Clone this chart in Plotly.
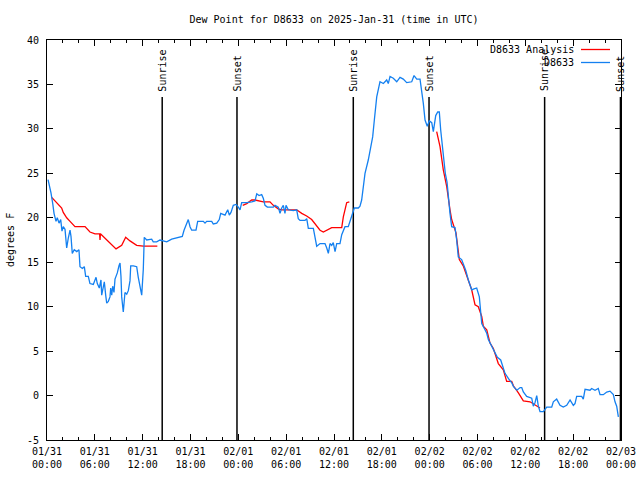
import pandas as pd
import plotly.graph_objects as go

START = pd.Timestamp("2025-01-31 00:00")

# Observed dew point (D8633): hours since 01/31 00:00 UTC, degrees F
obs_hours = [0.13, 0.29, 0.50, 0.72, 0.88, 1.13, 1.29, 1.51, 1.72, 1.88, 2.04, 2.26, 2.47, 2.67, 2.89, 3.01,
             3.17, 3.42, 3.73, 4.01, 4.14, 4.43, 4.68, 4.85, 5.18, 5.39, 5.81, 6.15, 6.31, 6.56, 6.77, 6.86,
             7.06, 7.19, 7.36, 7.49, 7.69, 7.90, 7.99, 8.12, 8.24, 8.40, 8.53, 8.82, 9.03, 9.16, 9.28, 9.37,
             9.57, 9.78, 10.0, 10.2, 10.41, 10.50, 10.83, 11.25, 11.45, 11.67, 11.88, 12.08, 12.20, 12.51,
             13.13, 13.33, 13.76, 14.17, 14.59, 15.02, 15.64, 16.47, 16.97, 17.19, 17.52, 17.72, 17.94, 18.15,
             18.69, 18.90, 19.61, 19.82, 20.03, 20.66, 20.86, 21.29, 21.61, 21.79, 22.33, 22.67, 22.87, 23.08,
             23.37, 23.71, 24.0, 24.21, 24.42, 25.05, 25.68, 26.09, 26.31, 26.60, 26.93, 27.13, 27.35, 27.64,
             28.39, 28.60, 29.01, 29.23, 29.44, 29.64, 29.85, 29.98, 30.27, 30.90, 31.32, 31.52, 31.74, 32.36,
             32.58, 32.78, 33.41, 33.62, 33.83, 34.25, 34.87, 35.09, 35.29, 35.50, 35.71, 35.91, 36.13, 36.34,
             36.75, 36.97, 37.38, 37.79, 38.22, 38.55, 39.05, 39.26, 39.47, 39.76, 39.89, 40.30, 40.60, 40.85,
             41.06, 41.36, 41.65, 41.77, 42.19, 42.61, 42.81, 43.03, 43.44, 43.87, 44.28, 44.69, 45.12, 45.75,
             46.04, 46.38, 46.79, 47.00, 47.20, 47.42, 47.70, 47.95, 48.26, 48.46, 48.76, 49.01, 49.21, 49.38,
             49.71, 49.96, 50.18, 50.34, 50.55, 50.76, 51.18, 51.39, 51.59, 52.01, 52.21, 52.52, 52.85, 53.27,
             53.56, 53.90, 54.23, 54.53, 54.94, 55.16, 55.36, 55.78, 56.20, 56.49, 56.91, 57.16, 57.45, 57.89,
             58.32, 58.52, 58.73, 58.94, 59.35, 59.55, 59.75, 60.17, 60.80, 61.00, 61.21, 61.43, 61.63, 61.84,
             62.26, 62.68, 63.31, 63.51, 63.93, 64.14, 64.35, 64.76, 65.19, 65.61, 66.02, 66.23, 66.44, 67.07,
             67.27, 67.49, 68.11, 68.32, 68.74, 69.15, 69.37, 69.78, 70.21, 70.62, 71.04, 71.25, 71.46, 71.67]
obs_values = [24.3, 23.7, 22.8, 21.6, 20.5, 19.6, 20.0, 19.4, 19.8, 18.5, 19.0, 18.7, 16.6, 17.7, 18.6, 17.9,
              16.0, 16.4, 16.2, 16.4, 14.5, 14.3, 14.5, 13.4, 13.4, 12.6, 12.5, 13.3, 12.6, 12.1, 13.0, 11.3,
              12.3, 12.8, 11.3, 10.4, 10.6, 11.1, 12.1, 11.3, 12.3, 11.6, 13.1, 13.8, 14.6, 14.9, 13.4, 11.1,
              9.4, 11.6, 11.4, 11.8, 12.9, 14.6, 14.6, 14.5, 13.3, 12.4, 11.3, 14.2, 17.8, 17.5,
              17.6, 17.3, 17.3, 17.5, 17.4, 17.3, 17.6, 17.8, 17.9, 18.6, 19.4, 19.8, 19.0, 18.6,
              18.6, 19.6, 19.6, 19.4, 19.6, 19.6, 19.3, 19.4, 19.8, 20.5, 20.3, 20.9, 20.3, 20.6,
              21.4, 21.5, 21.2, 20.9, 21.7, 21.7, 21.8, 21.9, 22.7, 22.5, 22.6, 22.2, 21.4, 21.2,
              21.2, 21.4, 21.2, 20.5, 21.1, 21.4, 20.5, 21.4, 20.9, 20.8, 20.9, 19.9, 19.7, 19.7,
              19.9, 18.8, 18.8, 17.9, 16.8, 17.1, 17.1, 16.6, 16.0, 17.1, 16.9, 17.2, 16.2, 17.1,
              17.1, 18.1, 19.0, 19.0, 20.1, 21.1, 21.1, 21.3, 22.0, 23.7, 25.0, 26.5, 28.0, 29.1,
              31.0, 33.6, 34.8, 35.3, 35.1, 35.5, 35.1, 35.9, 35.7, 35.3, 35.8, 35.6, 35.2, 35.3,
              36.0, 35.6, 35.6, 34.4, 32.9, 31.0, 30.3, 30.9, 30.7, 29.7, 31.5, 31.9, 31.9, 29.9,
              26.9, 25.0, 24.0, 22.0, 20.5, 19.0, 18.9, 17.5, 15.6, 15.3, 14.9, 14.1, 13.0, 11.9,
              12.0, 12.1, 11.1, 8.1, 7.4, 7.0, 6.3, 5.6, 4.9, 4.3, 4.0, 3.3, 2.5, 1.9,
              1.4, 1.0, 0.8, 0.6, 0.9, 0.9, 0.4, -0.1, -0.3, -1.2, -0.8, 0.0, -1.2, -1.8,
              -1.8, -1.3, -1.3, -0.7, -0.4, -0.7, -1.1, -1.3, -1.1, -0.5, -1.1, -0.9, -0.1, -0.1,
              -0.4, 0.7, 0.6, 0.8, 0.6, 0.8, 0.1, 0.1, 0.4, 0.5, 0.1, -0.7, -1.2, -2.4]

# Analysis (D8633 Analysis): None breaks the line
ana_hours = [0.59, 1.0, 1.42, 1.84, 2.04, 2.47, 2.89, 3.51, 4.14, 4.77, 5.39, 6.02, 6.60, 6.65, 6.70, 7.28,
             7.90, 8.66, 9.37, 9.87, 10.41, 11.25, 12.08, 13.84,
             19.0,
             24.55, 25.05, 25.68, 26.09, 27.13, 27.97, 28.39, 29.01, 29.44, 31.32, 31.95, 32.57, 33.20, 33.83,
             34.25, 34.66, 35.29, 35.71, 36.97, 37.17, 37.59, 37.92,
             43.0,
             48.88, 49.30, 49.71, 50.14, 50.55, 50.76, 51.30, 51.72, 52.21, 52.65, 53.27, 53.69, 54.10, 54.53,
             54.73, 55.16, 55.57, 55.99, 56.61, 57.24, 57.66, 58.29, 58.50, 59.13, 59.55, 59.75, 60.59, 61.00,
             61.43, 61.84]
ana_values = [22.3, 21.9, 21.4, 21.1, 20.6, 20.0, 19.6, 19.0, 19.0, 19.0, 18.4, 18.2, 18.2, 17.5, 18.2, 17.7,
              17.1, 16.5, 16.9, 17.8, 17.4, 16.9, 16.8, 16.8,
              None,
              21.4, 21.6, 22.0, 22.0, 21.8, 21.8, 21.4, 21.0, 20.9, 20.9, 20.5, 20.2, 19.8, 19.0,
              18.6, 18.4, 18.7, 18.9, 18.9, 20.1, 21.7, 21.8,
              None,
              29.7, 28.0, 25.4, 23.5, 20.9, 19.8, 18.3, 15.3, 14.6, 13.4, 11.9, 10.2, 10.0, 8.9,
              7.8, 7.4, 5.9, 5.3, 3.6, 2.9, 1.6, 1.6, 1.1, 0.3, -0.4, -0.6, -0.7, -0.9,
              -1.2, -1.4]

# Sun events (hours since 01/31 00:00 UTC)
sun_labels = ["Sunrise", "Sunset", "Sunrise", "Sunset", "Sunrise", "Sunset"]
sun_hours = [14.45, 23.83, 38.42, 47.92, 62.42, 71.93]

tick_hours = list(range(0, 73, 6))
tick_labels = ["01/31<br>00:00", "01/31<br>06:00", "01/31<br>12:00", "01/31<br>18:00",
               "02/01<br>00:00", "02/01<br>06:00", "02/01<br>12:00", "02/01<br>18:00",
               "02/02<br>00:00", "02/02<br>06:00", "02/02<br>12:00", "02/02<br>18:00",
               "02/03<br>00:00"]
y_ticks = [-5, 0, 5, 10, 15, 20, 25, 30, 35, 40]


def to_time(hours):
    return [START + pd.Timedelta(hours=h) for h in hours]


FONT = "DejaVu Sans Mono"
RED = "#ff0000"
BLUE = "#1480f0"

fig = go.Figure()

# sun event vertical lines
for lab, h in zip(sun_labels, sun_hours):
    t = START + pd.Timedelta(hours=h)
    fig.add_trace(go.Scatter(x=[t, t], y=[-5, 33.6], mode="lines",
                             line=dict(color="black", width=1.5), showlegend=False, hoverinfo="skip"))
    fig.add_annotation(x=t, y=34.1, xref="x", yref="y", text=lab, textangle=-90,
                       showarrow=False, xanchor="center", yanchor="bottom",
                       font=dict(family=FONT, size=10, color="black"), borderpad=0)

fig.add_trace(go.Scatter(x=to_time(ana_hours), y=ana_values, mode="lines",
                         line=dict(color=RED, width=1.3), name="D8633 Analysis",
                         showlegend=False, connectgaps=False))
fig.add_trace(go.Scatter(x=to_time(obs_hours), y=obs_values, mode="lines",
                         line=dict(color=BLUE, width=1.3), name="D8633", showlegend=False))

# gnuplot-style legend (text then sample line)
W, H = 574.0, 400.0
def px_x(px):
    return (px - 47) / W
def px_y(py):
    return (440 - py) / H

for name, color, py in [("D8633 Analysis", RED, 49.5), ("D8633", BLUE, 62.5)]:
    fig.add_annotation(x=px_x(575), y=px_y(py), xref="paper", yref="paper", text=name,
                       showarrow=False, xanchor="right", yanchor="middle", borderpad=0,
                       font=dict(family=FONT, size=10, color="black"))
    fig.add_shape(type="line", xref="paper", yref="paper", x0=px_x(581), x1=px_x(610),
                  y0=px_y(py), y1=px_y(py), line=dict(color=color, width=1.3))

# y-axis title
fig.add_annotation(x=px_x(10), y=0.5, xref="paper", yref="paper", text="degrees F",
                   textangle=-90, showarrow=False, xanchor="center", yanchor="middle",
                   font=dict(family=FONT, size=10, color="black"))

fig.update_layout(
    width=640, height=480,
    margin=dict(l=47, r=19, t=40, b=40, pad=0, autoexpand=False),
    paper_bgcolor="white", plot_bgcolor="white",
    font=dict(family=FONT, size=10, color="black"),
    title=dict(text="Dew Point for D8633 on 2025-Jan-31 (time in UTC)", x=0.5, xref="paper",
               xanchor="center", y=1 - 19 / 480, yanchor="middle", yref="container",
               automargin=False, font=dict(family=FONT, size=10, color="black")),
    showlegend=False,
    hovermode=False,
)

fig.update_xaxes(
    type="date", automargin=False,
    range=[START, START + pd.Timedelta(hours=72)],
    tickmode="array", tickvals=to_time(tick_hours), ticktext=tick_labels,
    ticks="inside", ticklen=6, tickcolor="black", tickwidth=1,
    minor=dict(tickmode="linear", tick0=START, dtick=2 * 3600 * 1000, ticks="inside",
               ticklen=3, tickcolor="black", tickwidth=1, showgrid=False),
    showline=True, linecolor="black", linewidth=1, mirror="ticks",
    showgrid=False, zeroline=False, ticklabelstandoff=2,
    tickfont=dict(family=FONT, size=10, color="black"),
)
fig.update_yaxes(
    range=[-5, 40], automargin=False, tickmode="array", tickvals=y_ticks,
    ticktext=[str(v) for v in y_ticks],
    ticks="inside", ticklen=6, tickcolor="black", tickwidth=1,
    showline=True, linecolor="black", linewidth=1, mirror="ticks",
    showgrid=False, zeroline=False, ticklabelstandoff=5,
    tickfont=dict(family=FONT, size=10, color="black"),
)

fig.write_html("out.html", config={"displayModeBar": False},
               post_script="document.body.style.margin='0';document.body.style.padding='0';")
